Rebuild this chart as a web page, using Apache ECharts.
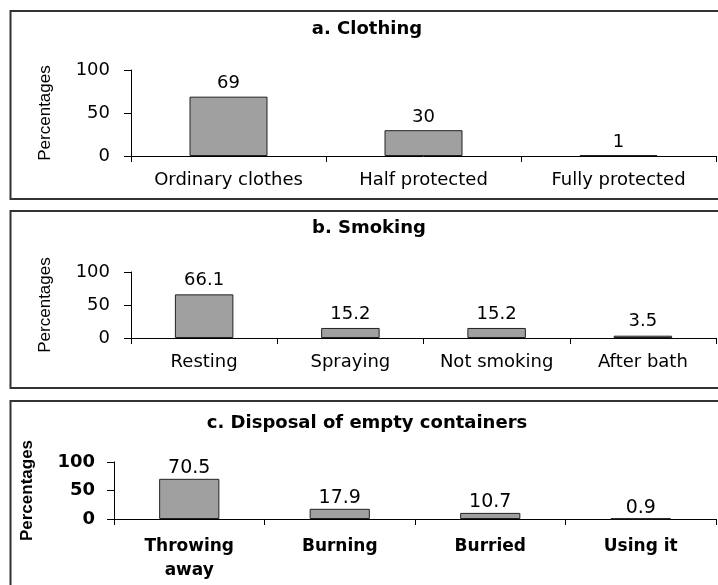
<!DOCTYPE html>
<html>
<head>
<meta charset="utf-8">
<script src="https://cdn.jsdelivr.net/npm/echarts@6/dist/echarts.min.js"></script>
<style>
  html, body { margin: 0; padding: 0; background: #fff; }
  #chart { width: 718px; height: 585px; }
</style>
</head>
<body>
<div id="chart"></div>
<script>
// a. Clothing
const clothingCats = ['Ordinary clothes', 'Half protected', 'Fully protected'];
const clothingVals = [69, 30, 1];
// b. Smoking
const smokingCats = ['Resting', 'Spraying', 'Not smoking', 'After bath'];
const smokingVals = [66.1, 15.2, 15.2, 3.5];
// c. Disposal of empty containers
const disposalCats = ['Throwing\naway', 'Burning', 'Burried', 'Using it'];
const disposalVals = [70.5, 17.9, 10.7, 0.9];

const titles = ['a. Clothing', 'b. Smoking', 'c. Disposal of empty containers'];

const chart = echarts.init(document.getElementById('chart'));

const thin = 'DejaVu Sans';

function xAxis(i, cats, bold) {
    return {
        type: 'category',
        gridIndex: i,
        data: cats,
        axisLine: { lineStyle: { color: '#000', width: 1 } },
        axisTick: { show: true, length: 6, lineStyle: { color: '#000' } },
        axisLabel: {
            color: '#000',
            fontFamily: thin,
            fontSize: bold ? 17 : 18,
            fontWeight: bold ? 'bold' : 'normal',
            lineHeight: bold ? 24 : 21,
            margin: bold ? 16 : 14,
            interval: 0
        }
    };
}

function yAxis(i, bold, gap, margin) {
    return {
        type: 'value',
        gridIndex: i,
        min: 0,
        max: 100,
        interval: 50,
        name: 'Percentages',
        nameLocation: 'middle',
        nameGap: gap,
        nameTextStyle: {
            color: '#000',
            fontFamily: 'Liberation Sans',
            fontSize: 17,
            fontWeight: bold ? 'bold' : 'normal'
        },
        axisLine: { show: true, lineStyle: { color: '#000', width: 1 } },
        axisTick: { show: true, length: 7, lineStyle: { color: '#000' } },
        splitLine: { show: false },
        axisLabel: {
            color: '#000',
            fontFamily: thin,
            fontSize: 18,
            fontWeight: bold ? 'bold' : 'normal',
            margin: margin
        }
    };
}

function bars(i, vals, dist, size) {
    return {
        type: 'bar',
        xAxisIndex: i,
        yAxisIndex: i,
        data: vals,
        barWidth: '40%',
        itemStyle: { color: '#a0a0a0', borderColor: '#222', borderWidth: 1 },
        label: {
            show: true,
            position: 'top',
            distance: dist,
            color: '#000',
            fontFamily: thin,
            fontSize: size
        }
    };
}

chart.setOption({
    animation: false,
    title: [
        { text: titles[0], left: 367, top: 20, textAlign: 'center', padding: 0,
          textStyle: { fontFamily: thin, fontSize: 18, fontWeight: 'bold', color: '#000' } },
        { text: titles[1], left: 369, top: 219, textAlign: 'center', padding: 0,
          textStyle: { fontFamily: thin, fontSize: 18, fontWeight: 'bold', color: '#000' } },
        { text: titles[2], left: 367, top: 414, textAlign: 'center', padding: 0,
          textStyle: { fontFamily: thin, fontSize: 18, fontWeight: 'bold', color: '#000' } }
    ],
    // panel frames
    graphic: [
        { type: 'rect', shape: { x: 10.5, y: 11, width: 720, height: 188 },
          style: { fill: 'none', stroke: '#333', lineWidth: 2 }, silent: true },
        { type: 'rect', shape: { x: 10.5, y: 211, width: 720, height: 177 },
          style: { fill: 'none', stroke: '#333', lineWidth: 2 }, silent: true },
        { type: 'rect', shape: { x: 10.5, y: 401, width: 720, height: 200 },
          style: { fill: 'none', stroke: '#333', lineWidth: 2 }, silent: true }
    ],
    grid: [
        { left: 131, right: 2, top: 70, height: 86, outerBoundsMode: 'none' },
        { left: 131, right: 2, top: 272, height: 66, outerBoundsMode: 'none' },
        { left: 114, right: 2, top: 462, height: 57, outerBoundsMode: 'none' }
    ],
    xAxis: [
        xAxis(0, clothingCats, false),
        xAxis(1, smokingCats, false),
        xAxis(2, disposalCats, true)
    ],
    yAxis: [
        yAxis(0, false, 77, 21),
        yAxis(1, false, 77, 21),
        yAxis(2, true, 78, 19)
    ],
    series: [
        bars(0, clothingVals, 4, 18),
        bars(1, smokingVals, 5, 18),
        bars(2, disposalVals, 1, 19)
    ]
});
</script>
</body>
</html>
